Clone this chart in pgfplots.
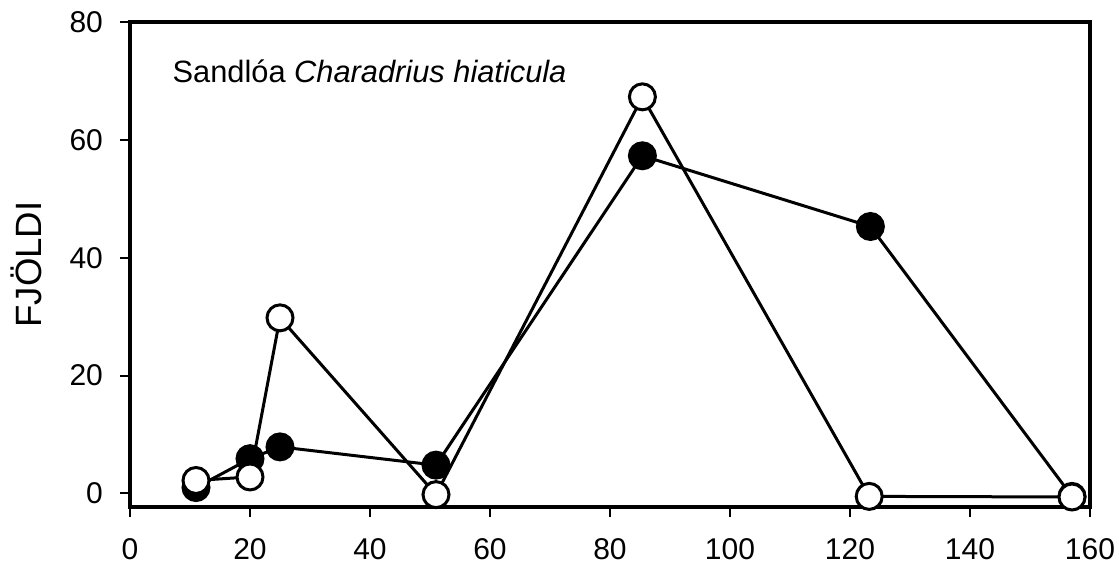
\documentclass[border=0pt]{standalone}
\usepackage{fontspec}
\setmainfont{Liberation Sans}
\usepackage{pgfplots}
\pgfplotsset{compat=1.18}
\begin{document}
\begin{tikzpicture}
\begin{axis}[
  name=ax,
  scale only axis,
  width=480pt, height=242.5pt,
  xmin=0, xmax=160, ymin=-2.3, ymax=80,
  xtick={0,20,...,160}, ytick={0,20,...,80},
  xtick pos=left, ytick pos=left,
  tick align=outside, major tick length=5pt,
  axis line style={line width=1.6pt},
  every tick/.style={line width=1pt, black},
  /pgf/number format/assume math mode=true,
  xticklabel={\fontsize{15}{18}\selectfont\pgfmathprintnumber{\tick}},
  yticklabel={\fontsize{15}{18}\selectfont\pgfmathprintnumber{\tick}},
  xticklabel style={yshift=-7pt},
  yticklabel style={xshift=-5pt},
  ylabel={FJÖLDI},
  ylabel style={font=\fontsize{18.3}{21}\selectfont, at={(axis description cs:-0.108,0.5)}, anchor=center},
  clip=false,
]
\addplot[black, line width=1.5pt, mark=*, mark size=6.5pt, mark options={fill=black}]
coordinates {(11,1.0) (20,5.9) (25,7.9) (51,4.8) (85.4,57.3) (123.4,45.3) (157,-0.5)};
\addplot[black, line width=1.5pt, mark=*, mark size=6.5pt, mark options={fill=white, line width=1.5pt}]
coordinates {(11,2.2) (20,2.8) (25,29.8) (51,-0.2) (85.4,67.3) (123.2,-0.5) (157,-0.6)};
\node[anchor=base west, inner sep=0pt, font=\fontsize{15.4}{18}\selectfont] at (rel axis cs:0.044,0.876) {Sandlóa \textit{Charadrius hiaticula}};
\end{axis}
\pgfresetboundingbox
\useasboundingbox (ax.south west) ++(-65pt,-30.5pt) rectangle ++(559.5pt,284pt);
\end{tikzpicture}
\end{document}
